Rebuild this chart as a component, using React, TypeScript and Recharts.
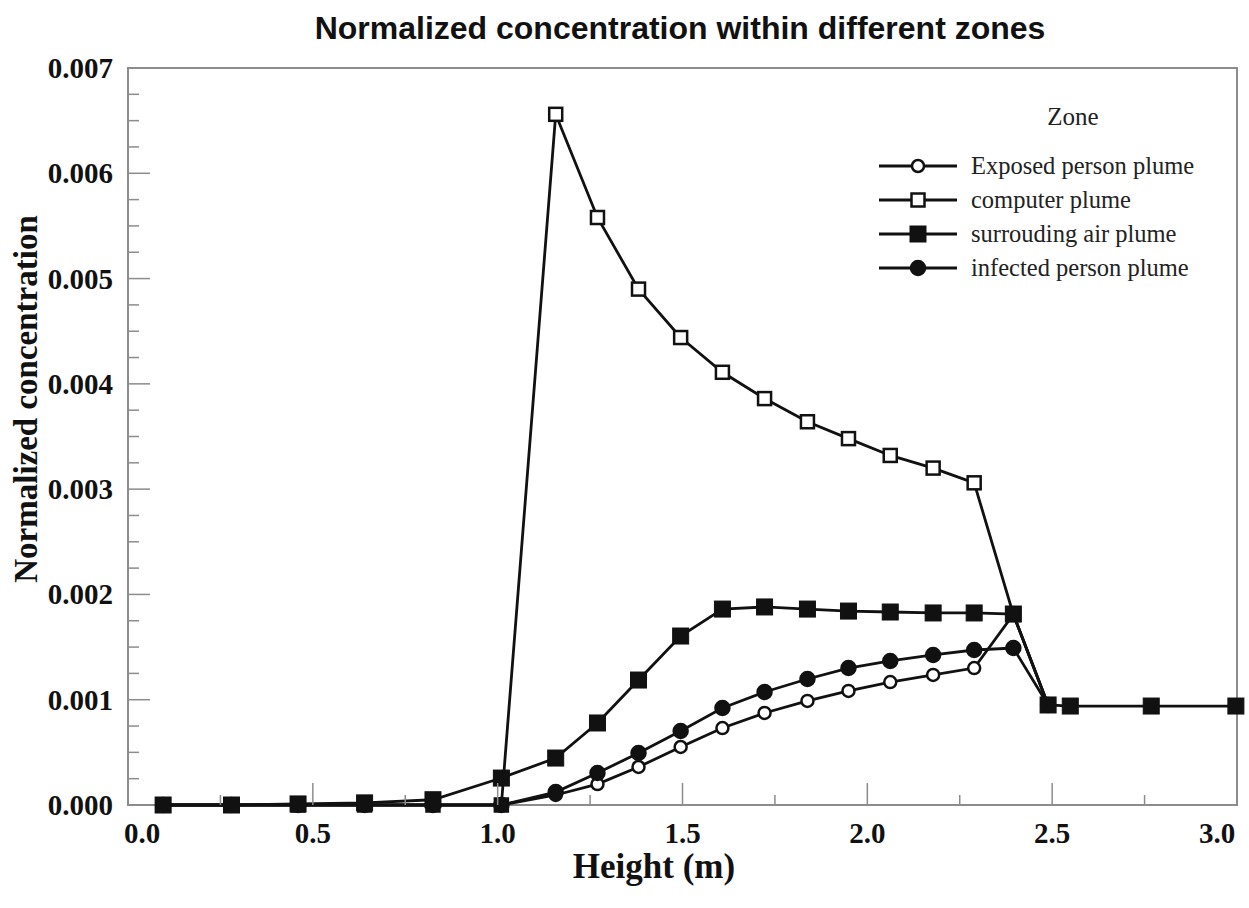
import { LineChart, Line, XAxis, YAxis, ReferenceArea, Legend } from 'recharts';

// heights (m) where the zones were sampled
const heights = [0.095, 0.28, 0.46, 0.64, 0.825, 1.01, 1.157, 1.27, 1.381, 1.495, 1.608, 1.722, 1.838, 1.949, 2.062, 2.178, 2.289, 2.395, 2.489, 2.549, 2.768, 2.997];

const exposedPlume = [0, 0, 0, 0, 0, 0, 0.000095, 0.000199, 0.000361, 0.000551, 0.000731, 0.000874, 0.000988, 0.001083, 0.001168, 0.001235, 0.001301, 0.00181, 0.00095];
const computerPlume = [0, 0, 0, 0, 0, 0, 0.00656, 0.00558, 0.0049, 0.00444, 0.00411, 0.00386, 0.00364, 0.00348, 0.00332, 0.0032, 0.00306, 0.00181, 0.00095];
const surroundingAir = [0, 0, 0.00001, 0.00002, 0.00005, 0.000256, 0.000446, 0.000779, 0.001187, 0.001605, 0.001861, 0.001881, 0.001861, 0.001842, 0.001833, 0.001824, 0.001824, 0.001814, 0.00095, 0.00094, 0.00094, 0.00094];
const infectedPlume = [0, 0, 0, 0, 0, 0, 0.000123, 0.000304, 0.000494, 0.000703, 0.000921, 0.001073, 0.001197, 0.001301, 0.001368, 0.001425, 0.001472, 0.001491, 0.00095];

const xMajorTicks = [0, 0.5, 1, 1.5, 2, 2.5, 3];
const yMajorTicks = [0, 0.001, 0.002, 0.003, 0.004, 0.005, 0.006, 0.007];

const xTicks = xMajorTicks.flatMap((t, i) => (i < xMajorTicks.length - 1 ? [t, t + 0.25] : [t]));
const yTicks = yMajorTicks.flatMap((t, i) =>
  i < yMajorTicks.length - 1 ? [t, t + 0.00025, t + 0.0005, t + 0.00075] : [t]
);

const data = heights.map((h, i) => ({
  h,
  exposed: exposedPlume[i] ?? null,
  computer: computerPlume[i] ?? null,
  surrounding: surroundingAir[i] ?? null,
  infected: infectedPlume[i] ?? null,
}));

const PLOT_LEFT = 128;
const PLOT_BOTTOM = 805;
const AXIS_GREY = '#8c8c8c';
const INK = '#111';
const SERIF = '"Liberation Serif", "Times New Roman", serif';
const LINE_W = 2.8;

const isMajor = (v: number, step: number) => Math.abs(v / step - Math.round(v / step)) < 1e-6;

function XTick(props: any) {
  const v = props.payload.value;
  const x = props.payload.coordinate ?? props.x;
  const major = isMajor(v, 0.5);
  // end labels sit a bit inwards in the original
  const dx = v === 0 ? 14 : v === 3 ? -20 : 0;
  return (
    <g>
      <line x1={x} x2={x} y1={PLOT_BOTTOM} y2={PLOT_BOTTOM - (major ? 22 : 10)} stroke={AXIS_GREY} strokeWidth={1.5} />
      {major && (
        <text x={x + dx} y={833} textAnchor="middle" dominantBaseline="central" fontFamily={SERIF} fontWeight="bold" fontSize={29} fill={INK}>
          {v.toFixed(1)}
        </text>
      )}
    </g>
  );
}

function YTick(props: any) {
  const v = props.payload.value;
  const y = props.payload.coordinate ?? props.y;
  const major = isMajor(v, 0.001);
  return (
    <g>
      <line x1={PLOT_LEFT} x2={PLOT_LEFT + (major ? 22 : 11)} y1={y} y2={y} stroke={AXIS_GREY} strokeWidth={1.5} />
      {major && (
        <text x={113} y={y} textAnchor="end" dominantBaseline="central" fontFamily={SERIF} fontWeight="bold" fontSize={29} fill={INK}>
          {v.toFixed(3)}
        </text>
      )}
    </g>
  );
}

type Shape = 'circle' | 'square';

function marker(shape: Shape, filled: boolean, cx: number, cy: number, key?: string) {
  if (shape === 'circle') {
    return <circle key={key} cx={cx} cy={cy} r={filled ? 7 : 6} fill={filled ? INK : '#fff'} stroke={INK} strokeWidth={2.5} />;
  }
  const s = filled ? 16 : 13;
  return <rect key={key} x={cx - s / 2} y={cy - s / 2} width={s} height={s} fill={filled ? INK : '#fff'} stroke={INK} strokeWidth={filled ? 1 : 2.5} />;
}

const makeDot = (shape: Shape, filled: boolean) => (p: any) => {
  const key = `${shape}-${filled}-${p.index}`;
  if (p.value == null || !Number.isFinite(p.cx) || !Number.isFinite(p.cy)) return <g key={key} />;
  return marker(shape, filled, p.cx, p.cy, key);
};

const legendItems: { name: string; shape: Shape; filled: boolean }[] = [
  { name: 'Exposed person plume', shape: 'circle', filled: false },
  { name: 'computer plume', shape: 'square', filled: false },
  { name: 'surrouding air plume', shape: 'square', filled: true },
  { name: 'infected person plume', shape: 'circle', filled: true },
];

function ZoneLegend() {
  return (
    <div style={{ fontFamily: SERIF, color: '#222' }}>
      <div style={{ fontSize: 25, textAlign: 'center', paddingLeft: 50, height: 50, lineHeight: '36px' }}>Zone</div>
      {legendItems.map((it) => (
        <div key={it.name} style={{ display: 'flex', alignItems: 'center', height: 34 }}>
          <svg width={80} height={22} style={{ flex: 'none' }}>
            <line x1={1} x2={79} y1={11} y2={11} stroke={INK} strokeWidth={LINE_W} />
            {marker(it.shape, it.filled, 40, 11)}
          </svg>
          <span style={{ fontSize: 24.5, marginLeft: 13, whiteSpace: 'nowrap' }}>{it.name}</span>
        </div>
      ))}
    </div>
  );
}

export default function App() {
  return (
    <div style={{ position: 'absolute', left: 0, top: 0, width: 1249, height: 908, background: '#fff' }}>
      <div
        style={{
          position: 'absolute', left: 680, top: 28, transform: 'translate(-50%, -50%)', whiteSpace: 'nowrap',
          fontFamily: '"Liberation Sans", Arial, sans-serif', fontWeight: 'bold', fontSize: 32, color: INK,
        }}
      >
        Normalized concentration within different zones
      </div>
      <div
        style={{
          position: 'absolute', left: 26, top: 399, transform: 'translate(-50%, -50%) rotate(-90deg)',
          fontFamily: SERIF, fontWeight: 'bold', fontSize: 33, color: INK, whiteSpace: 'nowrap',
        }}
      >
        Normalized concentration
      </div>
      <div
        style={{
          position: 'absolute', left: 654, top: 867, transform: 'translate(-50%, -50%)',
          fontFamily: SERIF, fontWeight: 'bold', fontSize: 35, color: INK, whiteSpace: 'nowrap',
        }}
      >
        Height (m)
      </div>
      <LineChart width={1249} height={908} data={data} margin={{ top: 68, right: 12, left: 127, bottom: 102 }}>
        <XAxis
          type="number" dataKey="h" domain={[0, 3]} ticks={xTicks} interval={0}
          axisLine={false} tickLine={false} tick={(p: any) => <XTick {...p} />} height={1}
        />
        <YAxis
          type="number" domain={[0, 0.007]} ticks={yTicks} interval={0}
          axisLine={false} tickLine={false} tick={(p: any) => <YTick {...p} />} width={1}
        />
        <ReferenceArea x1={0} x2={3} y1={0} y2={0.007} fill="none" stroke={AXIS_GREY} strokeWidth={2} ifOverflow="visible" />
        <Legend
          layout="vertical" align="center" verticalAlign="middle"
          content={() => <ZoneLegend />}
          wrapperStyle={{ left: 878, top: 99, width: 340, height: 200 }}
        />
        <Line dataKey="computer" stroke={INK} strokeWidth={LINE_W} dot={makeDot('square', false)} isAnimationActive={false} />
        <Line dataKey="exposed" stroke={INK} strokeWidth={LINE_W} dot={makeDot('circle', false)} isAnimationActive={false} />
        <Line dataKey="infected" stroke={INK} strokeWidth={LINE_W} dot={makeDot('circle', true)} isAnimationActive={false} />
        <Line dataKey="surrounding" stroke={INK} strokeWidth={LINE_W} dot={makeDot('square', true)} isAnimationActive={false} />
      </LineChart>
    </div>
  );
}
